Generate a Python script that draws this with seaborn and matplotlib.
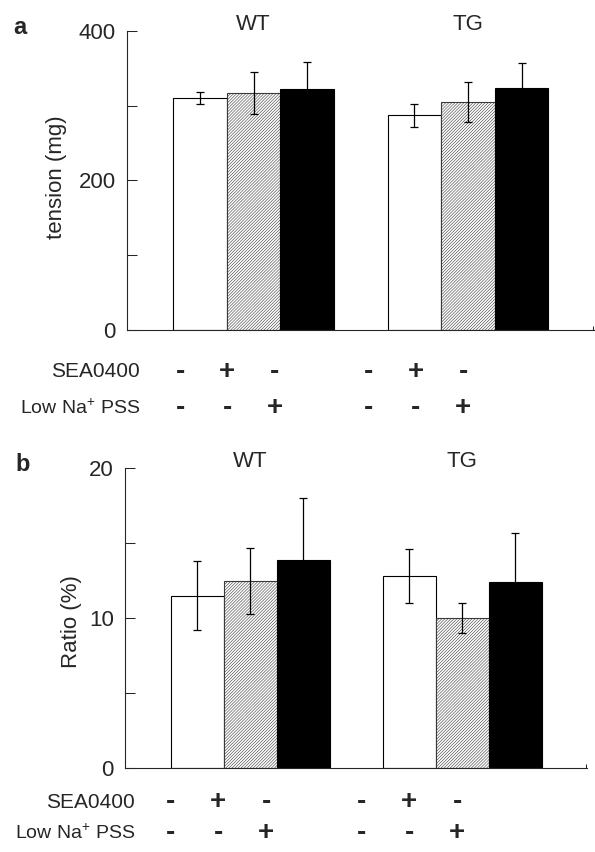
import matplotlib
matplotlib.use("Agg")
import matplotlib.pyplot as plt
import seaborn as sns
import pandas as pd
import numpy as np

# ---------------- data ----------------
conditions = ["WT ctl", "WT SEA", "WT low", "TG ctl", "TG SEA", "TG low"]
groups = ["WT", "TG"]
tension_mean = [311, 317, 323, 287, 305, 324]
tension_err = [8, 28, 36, 16, 27, 33]
ratio_mean = [11.5, 12.5, 13.9, 12.8, 10.0, 12.4]
ratio_err = [2.3, 2.2, 4.1, 1.8, 1.0, 3.3]
sea0400_signs = ["-", "+", "-", "-", "+", "-"]
lowna_signs = ["-", "-", "+", "-", "-", "+"]
fills = ["white", "hatch", "black", "white", "hatch", "black"]
row_labels = ["SEA0400", r"Low Na$^{\mathregular{+}}$ PSS"]

# ---------------- style ----------------
sns.set_style("ticks")
plt.rcParams["font.family"] = ["Liberation Sans", "DejaVu Sans"]
plt.rcParams["mathtext.fontset"] = "custom"
plt.rcParams["mathtext.rm"] = "Liberation Sans"
plt.rcParams["hatch.linewidth"] = 0.4

order = conditions[:3] + ["gap"] + conditions[3:]

fig = plt.figure(figsize=(5.95, 8.52), dpi=100)
ax_a = fig.add_axes([127 / 595, 1 - 330 / 852, 467 / 595, 299 / 852])
ax_b = fig.add_axes([125 / 595, 1 - 768 / 852, 462 / 595, 300 / 852])


def draw_panel(ax, means, errs, ylim, major, minor, ylabel, ylab_pos,
               sign_scale, sign_off, row_dy, label_dx):
    df = pd.DataFrame({"cond": conditions, "val": means})
    sns.barplot(data=df, x="cond", y="val", order=order, width=1.0,
                errorbar=None, color="white", edgecolor="black",
                linewidth=0.8, saturation=1, ax=ax)
    fill_of = dict(zip(conditions, fills))
    for p in ax.patches:
        idx = int(round(p.get_x() + p.get_width() / 2))
        kind = fill_of[order[idx]]
        if kind == "black":
            p.set_facecolor("black")
        elif kind == "hatch":
            p.set_facecolor("white")
            p.set_hatch("/" * 11)
            p.set_edgecolor("#3a3a3a")
        p.set_zorder(2)
    pos = [order.index(c) for c in conditions]
    ax.errorbar(pos, means, yerr=errs, fmt="none", ecolor="black",
                elinewidth=0.9, capsize=2.6, capthick=0.9, zorder=3)

    ax.set_xlim(-1.36, 7.35)
    ax.set_ylim(*ylim)
    ax.set_yticks(major)
    ax.set_yticks(minor, minor=True)
    ax.tick_params(axis="y", which="both", direction="in", length=7.2,
                   width=0.75, labelsize=16, pad=8)
    ax.set_xticks([7.33])
    ax.set_xticklabels([""])
    ax.tick_params(axis="x", direction="in", length=3, width=0.75)
    ax.set_xlabel("")
    ax.set_ylabel("")
    ax.text(ylab_pos[0], ylab_pos[1], ylabel, transform=ax.transAxes,
            rotation=90, ha="center", va="center", fontsize=16)
    for s in ["top", "right"]:
        ax.spines[s].set_visible(False)
    for s in ["left", "bottom"]:
        ax.spines[s].set_linewidth(0.8)

    # group titles
    for gi, g in enumerate(groups):
        gx = order.index(conditions[gi * 3 + 1])
        ax.text(gx, 1.023, g, transform=ax.get_xaxis_transform(),
                ha="center", va="center", fontsize=16)

    # treatment sign rows
    row_sizes = [15, 14]
    for ri, signs in enumerate([sea0400_signs, lowna_signs]):
        ax.annotate(row_labels[ri], xy=(0, 0), xycoords="axes fraction",
                    xytext=(label_dx, -row_dy[ri]), textcoords="offset pixels",
                    ha="right", va="center", fontsize=row_sizes[ri])
        for c, s in zip(conditions, signs):
            sx = order.index(c) * sign_scale + sign_off
            ax.annotate(s, xy=(sx, 0), xycoords=("data", "axes fraction"),
                        xytext=(0, -row_dy[ri]), textcoords="offset pixels",
                        ha="center", va="center", fontsize=20,
                        fontweight="bold")


draw_panel(ax_a, tension_mean, tension_err, (0, 400), [0, 200, 400],
           [100, 300], "tension (mg)", (-0.15, 0.512), 0.88, -0.37,
           (42, 78), 13)
draw_panel(ax_b, ratio_mean, ratio_err, (0, 20), [0, 10, 20], [5, 15],
           "Ratio (%)", (-0.115, 0.488), 0.9, -0.5, (34, 65), 10)

fig.text(13 / 595, 1 - 27.5 / 852, "a", fontsize=17, fontweight="bold",
         ha="left", va="center")
fig.text(15 / 595, 1 - 464.5 / 852, "b", fontsize=17, fontweight="bold",
         ha="left", va="center")

fig.savefig("out.png", dpi=100)
